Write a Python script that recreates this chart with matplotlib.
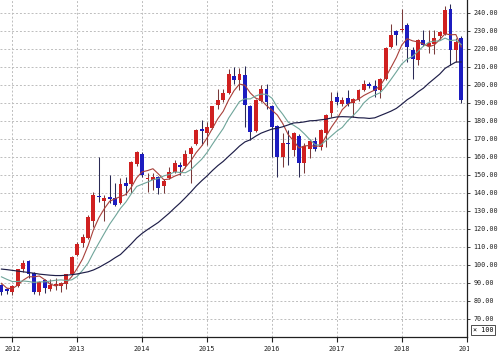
import numpy as np
import pandas as pd
import matplotlib
matplotlib.use('Agg')
import matplotlib.pyplot as plt
from matplotlib.transforms import Bbox, TransformedBbox

# Monthly candles, Nov 2011 - Dec 2018 (values x 100)
months = pd.date_range('2011-11-01', '2018-12-01', freq='MS')

opens = [88.7, 86.5,
         85.1, 88.5, 97.8, 102.0, 95.5, 85.0, 91.4, 86.4, 88.2, 88.2, 89.5, 95.0,
         105.5, 112.0, 115.0, 124.5, 138.5, 135.5, 137.7, 137.0, 134.5, 145.8, 145.0, 156.0,
         161.7, 147.7, 147.0, 149.0, 143.6, 148.2, 151.9, 155.6, 154.7, 161.7, 167.2, 175.3,
         173.4, 176.0, 188.8, 191.6, 195.5, 204.8, 203.0, 205.8, 188.2, 174.6, 191.2, 198.0,
         188.2, 177.2, 159.8, 168.0, 164.0, 171.6, 156.5, 164.4, 169.0, 165.7, 173.4, 184.6,
         193.5, 189.4, 192.5, 190.0, 191.6, 197.1, 200.8, 199.3, 197.4, 203.5, 221.0, 229.8,
         230.4, 233.1, 219.2, 214.0, 224.8, 221.5, 222.6, 227.0, 228.5, 242.3, 219.2, 226.3]
highs = [89.5, 87.2,
         89.0, 98.0, 103.0, 102.5, 96.0, 91.0, 92.0, 92.3, 93.0, 90.5, 95.0, 105.0,
         113.0, 117.0, 127.5, 140.8, 160.2, 139.0, 150.0, 145.4, 148.2, 148.8, 157.5, 163.5,
         162.5, 151.0, 151.0, 149.5, 147.5, 154.6, 158.3, 157.4, 163.9, 166.0, 175.5, 180.5,
         179.5, 188.5, 198.0, 197.5, 209.0, 210.0, 209.5, 210.4, 189.0, 192.0, 199.9, 200.8,
         189.0, 178.0, 173.1, 174.9, 174.0, 172.5, 168.0, 170.0, 170.9, 175.5, 184.0, 196.2,
         196.2, 193.3, 197.1, 193.0, 197.8, 203.0, 201.8, 202.6, 204.0, 221.0, 234.0, 230.5,
         242.3, 234.4, 221.0, 225.5, 230.3, 230.3, 230.7, 230.0, 243.6, 244.7, 226.0, 227.0]
lows = [83.5, 84.0,
        83.5, 88.0, 96.0, 93.0, 84.0, 83.2, 84.5, 85.5, 86.3, 85.0, 86.4, 94.5,
        105.0, 110.0, 114.5, 121.0, 135.2, 124.2, 134.4, 133.0, 134.0, 139.0, 140.0, 155.0,
        149.1, 140.8, 141.7, 139.5, 139.9, 147.5, 151.0, 150.0, 154.0, 145.5, 166.5, 166.6,
        166.6, 175.5, 186.4, 190.5, 195.0, 200.8, 197.0, 176.8, 169.4, 174.0, 190.5, 186.4,
        160.2, 149.1, 154.6, 155.6, 160.5, 149.1, 151.0, 159.3, 163.5, 164.0, 165.7, 182.3,
        188.8, 188.5, 188.5, 182.3, 191.0, 196.5, 198.5, 193.4, 192.5, 203.0, 220.5, 222.0,
        229.5, 212.8, 203.5, 211.0, 221.5, 217.8, 217.4, 225.5, 227.5, 211.0, 212.8, 189.7]
closes = [85.0, 85.5,
          88.2, 97.5, 101.3, 94.7, 85.2, 90.6, 87.3, 89.1, 89.5, 90.0, 94.7, 104.5,
          111.8, 115.8, 126.5, 139.0, 137.8, 137.0, 136.6, 133.5, 145.0, 143.6, 157.0, 163.0,
          150.0, 148.5, 148.8, 142.6, 146.8, 151.9, 156.5, 154.3, 161.7, 164.8, 174.9, 174.5,
          176.8, 188.2, 191.9, 195.6, 206.0, 202.6, 206.3, 188.8, 174.0, 191.6, 197.5, 190.6,
          176.4, 160.2, 168.0, 167.0, 173.1, 156.5, 166.1, 169.1, 164.5, 174.9, 183.2, 191.2,
          190.6, 191.6, 189.4, 192.0, 197.1, 200.8, 199.3, 196.8, 203.5, 220.7, 228.0, 227.5,
          231.3, 221.1, 214.6, 225.1, 222.0, 223.3, 226.0, 229.4, 241.4, 219.2, 224.0, 191.5]

# moving average values at the left edge
ma_short_head = [89.8, 87.1, 86.8, 88.8]
ma_mid_head = [93.4, 92.0, 90.8, 90.8, 91.1, 90.8, 90.3, 90.6]
ma_long_head = [97.7, 97.4, 97.0, 96.6, 96.2, 95.8, 95.4, 94.9, 94.6, 94.3, 94.1, 94.1,
                94.3, 94.6, 95.0, 95.6, 96.2, 97.2, 98.6, 100.3, 102.0, 104.0, 105.8]

years = [2012, 2013, 2014, 2015, 2016, 2017, 2018, 2019]
yticks = list(range(70, 250, 10))

x = np.array((months.year - 2012) * 12 + months.month - 1)
o = np.array(opens)
h = np.array(highs)
l = np.array(lows)
c = np.array(closes)


def moving(n, head):
    m = pd.Series(c).rolling(n).mean().to_numpy()
    m[:n - 1] = head
    return m


up = c >= o
red = '#d02020'
blue = '#1c1cc0'

fig = plt.figure(figsize=(5, 3.56), dpi=100)
ax = fig.add_axes([0, (356 - 337.3) / 356, 466.7 / 500, 337.3 / 356])

# grid
for yv in yticks:
    ax.axhline(yv, color='#bdbdbd', lw=0.7, ls=(0, (2, 2)), zorder=0)
for i in range(len(years) - 1):
    ax.axvline(i * 12, color='#bdbdbd', lw=0.7, ls=(0, (2, 2)), zorder=0)

# candles
ax.vlines(x[up], l[up], h[up], color='#7a3a3a', lw=0.75, zorder=2)
ax.vlines(x[~up], l[~up], h[~up], color='#2a2a55', lw=0.75, zorder=2)
body_lo = np.minimum(o, c)
body_h = np.maximum(np.abs(c - o), 0.5)
ax.bar(x[up], body_h[up], bottom=body_lo[up], width=0.72, color=red, zorder=3)
ax.bar(x[~up], body_h[~up], bottom=body_lo[~up], width=0.72, color=blue, zorder=3)

# moving averages
ax.plot(x, moving(5, ma_short_head), color='#a8403a', lw=0.8, zorder=4)
ax.plot(x, moving(9, ma_mid_head), color='#6fa59a', lw=0.8, zorder=4)
ax.plot(x, moving(24, ma_long_head), color='#1e1e48', lw=0.85, zorder=4)

ax.set_xlim(-2.27, 84)
ax.set_ylim(59.8, 247.2)

for s in ['left', 'top']:
    ax.spines[s].set_visible(False)
for s in ['right', 'bottom']:
    ax.spines[s].set_linewidth(0.9)
    ax.spines[s].set_color('#202020')

mono = 'DejaVu Sans Mono'
ax.yaxis.tick_right()
ax.set_yticks(yticks, ['%.2f' % v for v in yticks], fontsize=4.9, family=mono)
ax.set_xticks([i * 12 for i in range(len(years))], [str(v) for v in years],
              fontsize=4.9, family=mono)
ax.tick_params(axis='y', length=2.2, width=0.6, pad=2.5, colors='#202020')
ax.tick_params(axis='x', length=3.5, width=0.8, pad=2.5, colors='#202020')

# last year label is cut at the plot edge
lbl = ax.get_xticklabels()[-1]
lbl.set_clip_on(True)
lbl.set_clip_box(TransformedBbox(Bbox([[0, 0], [468.5 / 500, 1]]), fig.transFigure))

fig.text(483 / 500, 26 / 356, '\u00d7 100', fontsize=4.9, family=mono,
         ha='center', va='center',
         bbox=dict(boxstyle='square,pad=0.3', fc='white', ec='#303030', lw=0.6))

fig.savefig('out.png', dpi=100)
